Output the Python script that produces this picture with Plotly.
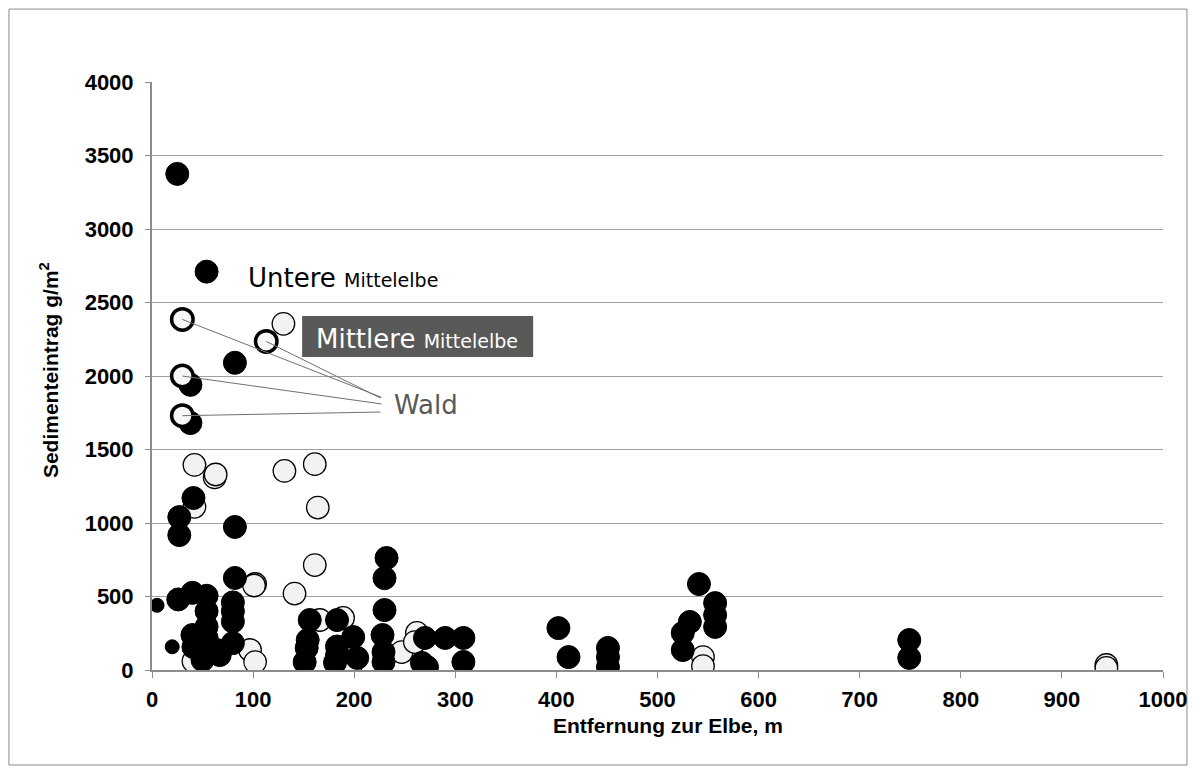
import plotly.graph_objects as go

# ---- data ----
untere_x = [25, 54, 82, 38, 38, 41, 27, 27, 82, 82, 26, 40, 54, 54, 54, 80, 80, 80,
            40, 54, 54, 41, 50, 64, 67, 80, 156, 154, 153, 151, 183, 183, 183, 181,
            199, 203, 232, 230, 230, 228, 229, 229, 270, 267, 272, 290, 308, 308,
            402, 412, 451, 451, 451, 541, 557, 557, 557, 532, 525, 525, 749, 749]
untere_y = [3375, 2710, 2090, 1940, 1680, 1170, 1040, 918, 973, 626, 480, 525, 505, 400, 295, 460, 400, 330,
            238, 218, 122, 156, 68, 136, 102, 183, 340, 204, 150, 54, 340, 160, 100, 50,
            224, 82, 762, 625, 408, 238, 122, 54, 218, 48, 20, 218, 218, 55,
            285, 88, 150, 88, 20, 585, 455, 374, 293, 327, 252, 136, 204, 82]

untere_small_x = [5, 20]
untere_small_y = [440, 158]

mittlere_x = [130, 42, 62, 63, 131, 161, 164, 42, 161, 102, 101, 141, 41, 97, 102,
              166, 189, 188, 196, 247, 262, 260, 545, 545, 944, 944]
mittlere_y = [2355, 1395, 1310, 1330, 1354, 1400, 1105, 1110, 714, 585, 575, 520, 60, 136, 54,
              340, 354, 20, 14, 122, 252, 190, 88, 27, 34, 14]

wald_x = [30, 30, 30, 113]
wald_y = [2385, 2000, 1730, 2235]

# Wald label leader-line end points (near the label)
wald_end_x = [227, 227, 226, 226]
wald_end_y = [1855, 1810, 1755, 1850]

x_ticks = list(range(0, 1001, 100))
y_ticks = list(range(0, 4001, 500))

fig = go.Figure()

fig.add_trace(go.Scatter(
    x=mittlere_x, y=mittlere_y, mode="markers", name="Mittlere Mittelelbe",
    marker=dict(size=22.5, color="#f2f2f2", line=dict(color="black", width=1.3))))

fig.add_trace(go.Scatter(
    x=untere_x, y=untere_y, mode="markers", name="Untere Mittelelbe",
    marker=dict(size=23, color="black", line=dict(color="black", width=1))))

fig.add_trace(go.Scatter(
    x=untere_small_x, y=untere_small_y, mode="markers", name="Untere (klein)",
    marker=dict(size=14, color="black", line=dict(color="black", width=1))))

fig.add_trace(go.Scatter(
    x=wald_x, y=wald_y, mode="markers", name="Wald",
    marker=dict(size=21.5, color="#f7f7f7", line=dict(color="black", width=3.5))))

shapes = []
for wx, wy, ex, ey in zip(wald_x, wald_y, wald_end_x, wald_end_y):
    shapes.append(dict(type="line", xref="x", yref="y", x0=wx, y0=wy, x1=ex, y1=ey,
                       line=dict(color="#707070", width=1), layer="above"))

# dark box behind "Mittlere Mittelelbe"
shapes.append(dict(type="rect", xref="x", yref="y", x0=148.5, x1=377, y0=2129, y1=2408,
                   fillcolor="#595959", line=dict(width=0), layer="above"))

# outer chart border
shapes.append(dict(type="rect", xref="paper", yref="paper", x0=-0.1415, x1=1.0237,
                   y0=-0.1616, y1=1.124, line=dict(color="#8c8c8c", width=1),
                   fillcolor="rgba(0,0,0,0)", layer="below"))

title_font = dict(family="Liberation Sans, Arial", size=21, color="black", weight="bold")

annotations = [
    dict(x=93, y=2665, xref="x", yref="y", xanchor="left", yanchor="middle", showarrow=False,
         text="Untere <span style='font-size:19px'>Mittelelbe</span>",
         font=dict(family="DejaVu Sans", size=26, color="black")),
    dict(x=160, y=2255, xref="x", yref="y", xanchor="left", yanchor="middle", showarrow=False,
         text="Mittlere <span style='font-size:19px'>Mittelelbe</span>",
         font=dict(family="DejaVu Sans", size=26, color="white")),
    dict(x=237, y=1800, xref="x", yref="y", xanchor="left", yanchor="middle", showarrow=False,
         text="Wald", font=dict(family="DejaVu Sans", size=26, color="#595959")),
    # axis titles
    dict(x=0.51, y=-0.0952, xref="paper", yref="paper", xanchor="center", yanchor="middle",
         showarrow=False, text="Entfernung zur Elbe, m", font=title_font),
    dict(x=-0.1019, y=0.51, xref="paper", yref="paper", xanchor="center", yanchor="middle",
         showarrow=False, textangle=-90, text="Sedimenteintrag g/m<sup>2</sup>", font=title_font),
]

axis_font = dict(family="Liberation Sans, Arial", size=22, color="black", weight="bold")

fig.update_layout(
    width=1180, height=758,
    margin=dict(l=144, r=25, t=74, b=96),
    paper_bgcolor="white", plot_bgcolor="white",
    showlegend=False,
    shapes=shapes, annotations=annotations,
    xaxis=dict(range=[0, 1000], tickvals=x_ticks, ticktext=[str(v) for v in x_ticks],
               showgrid=False, zeroline=False, showline=True, linecolor="#8c8c8c", linewidth=2,
               ticks="outside", ticklen=6, tickcolor="#8c8c8c", tickwidth=1,
               tickfont=axis_font, ticklabelstandoff=3, automargin=False),
    yaxis=dict(range=[0, 4000], tickvals=y_ticks, ticktext=[str(v) for v in y_ticks],
               showgrid=True, gridcolor="#a0a0a0", gridwidth=1.3,
               zeroline=False, showline=True, linecolor="#8c8c8c", linewidth=2,
               ticks="outside", ticklen=5, tickcolor="#8c8c8c", tickwidth=1,
               tickfont=axis_font, ticklabelstandoff=7, automargin=False),
)

fig.write_html("out.html")
